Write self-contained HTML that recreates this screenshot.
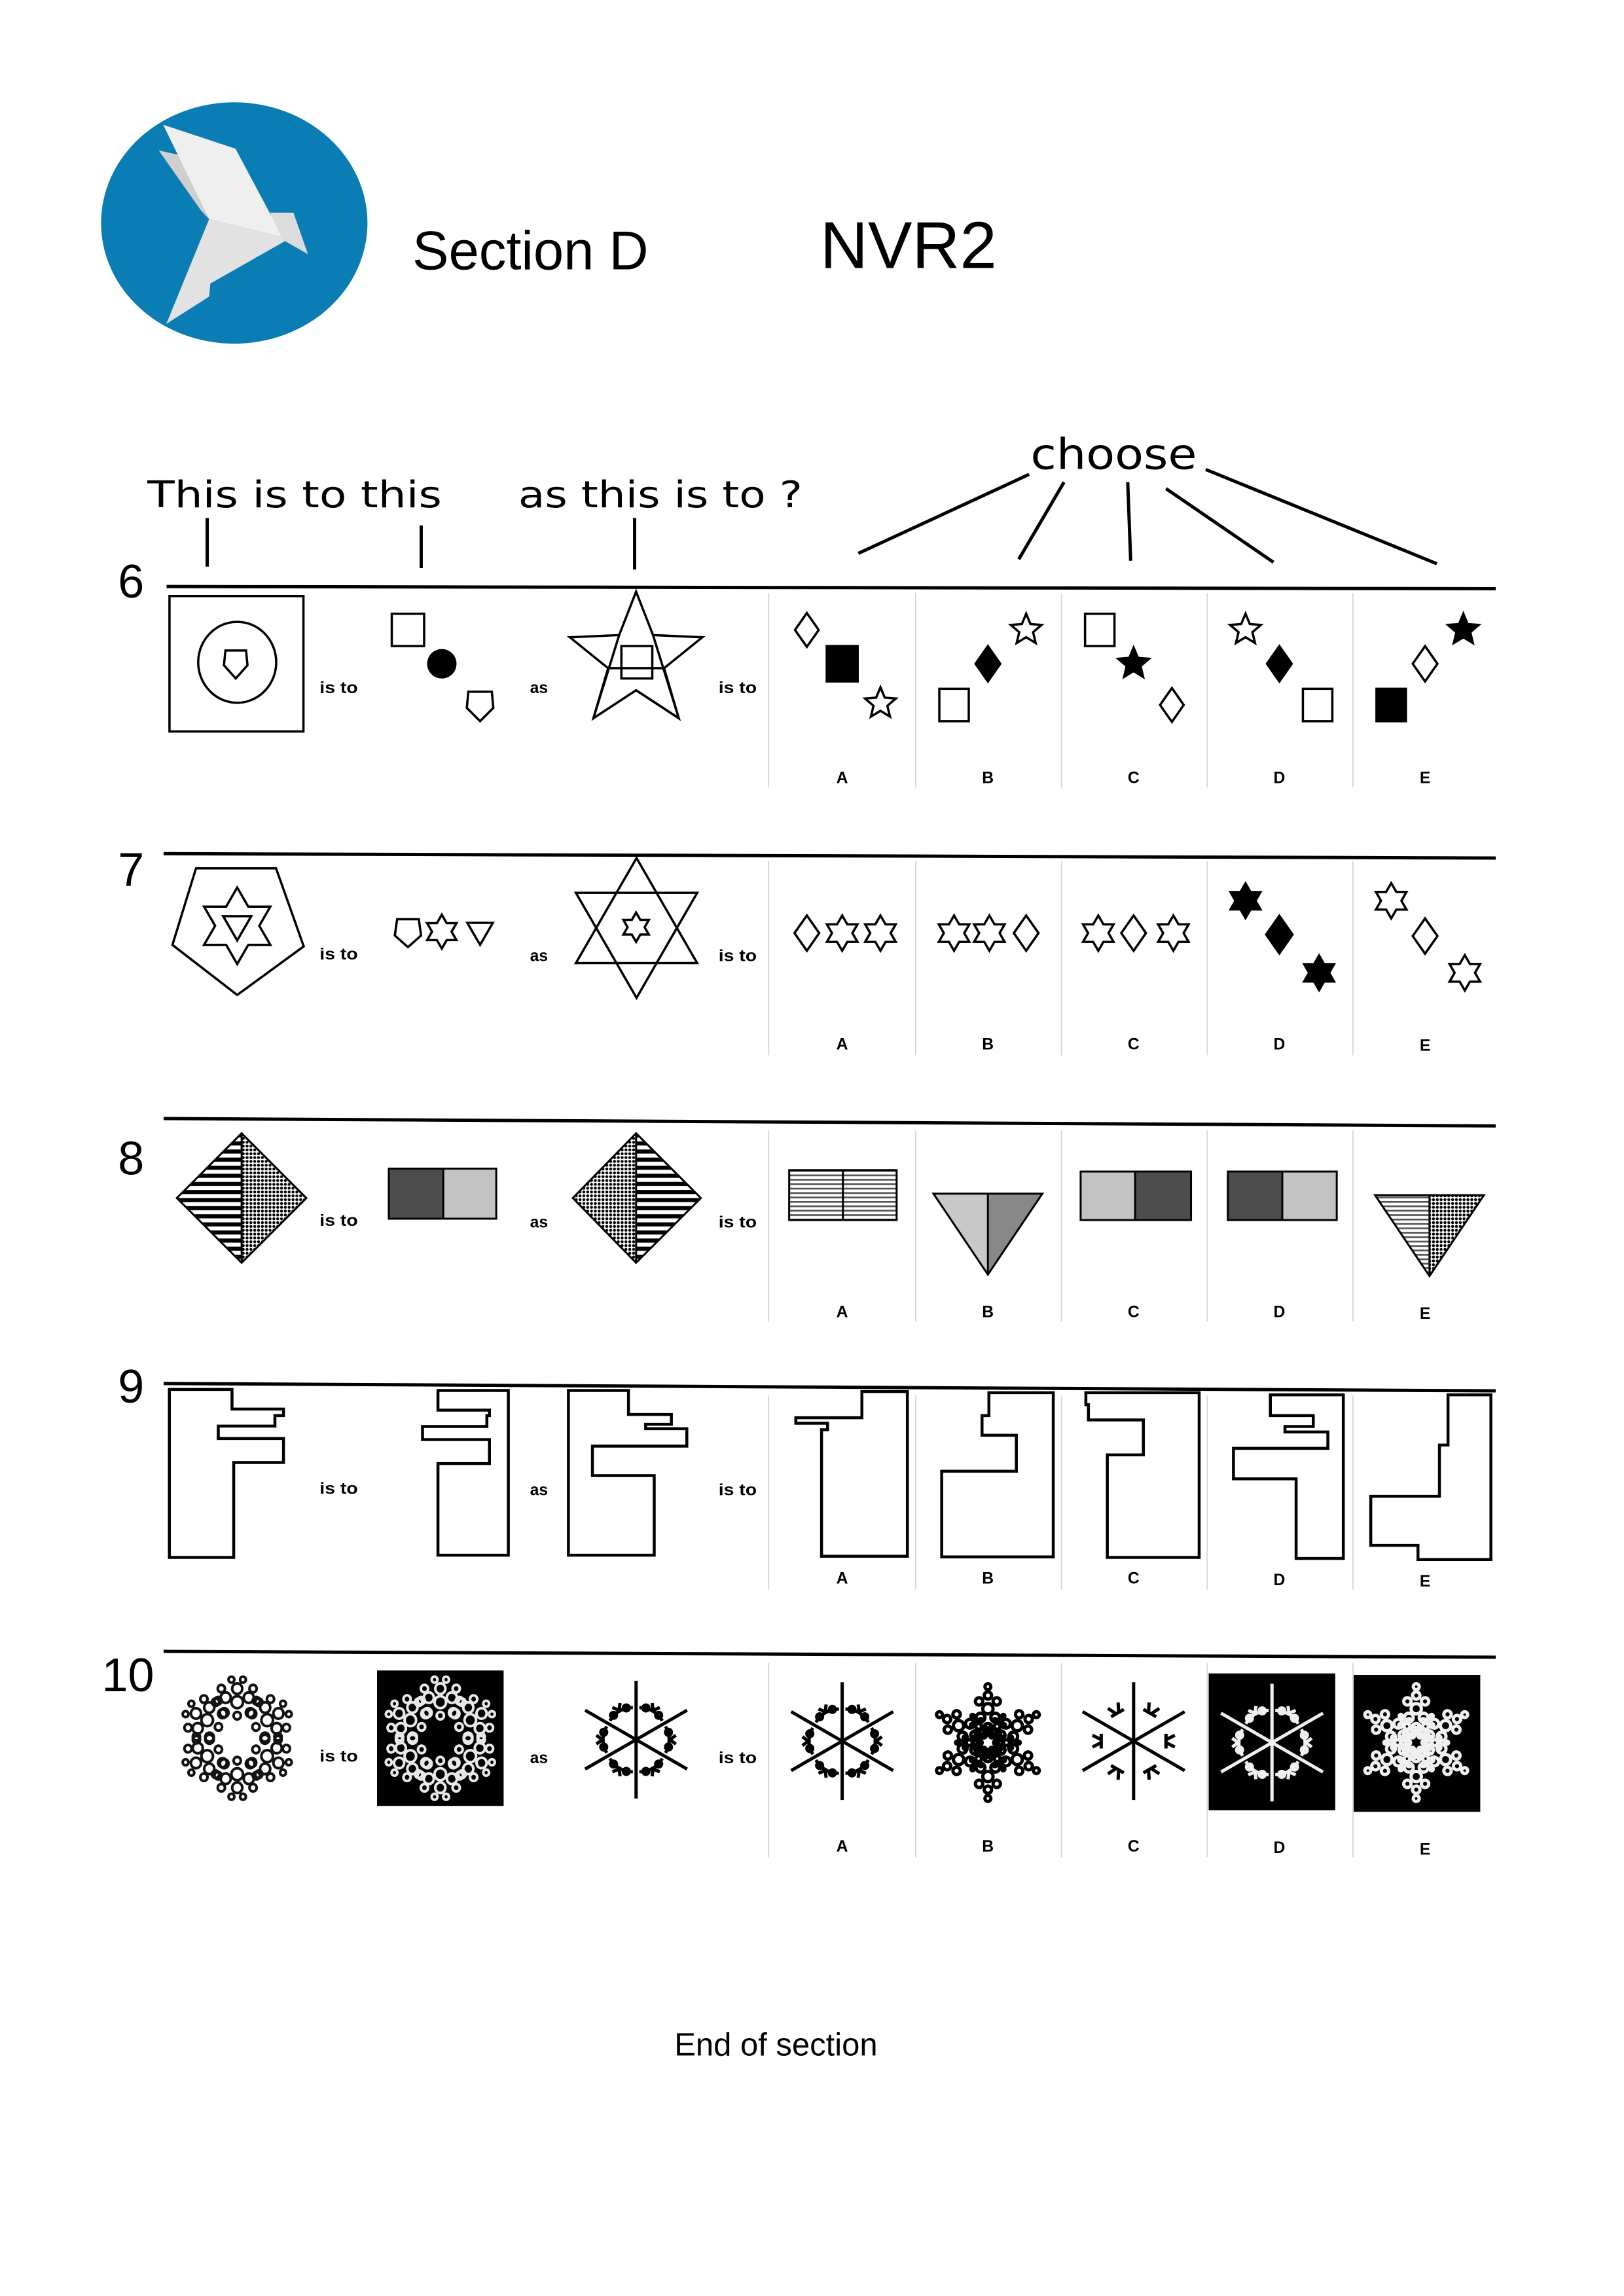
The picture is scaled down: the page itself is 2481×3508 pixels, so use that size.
<!DOCTYPE html>
<html><head><meta charset="utf-8"><style>
html,body{margin:0;padding:0;background:#fff;}
svg{display:block;}
svg *{vector-effect:non-scaling-stroke;}
.t{font-family:"DejaVu Sans","Liberation Sans",sans-serif;}
.l{font-family:"Liberation Sans",sans-serif;}
.s{font-family:"Liberation Sans",sans-serif;font-weight:bold;font-size:11px;}
</style></head><body>
<svg width="2481" height="3508" viewBox="0 0 1103 1560" xmlns="http://www.w3.org/2000/svg">
<defs>
<polygon id="st5" points="0,-10 2.65,-3.64 9.51,-3.09 4.28,1.39 5.88,8.09 0,4.5 -5.88,8.09 -4.28,1.39 -9.51,-3.09 -2.65,-3.64"/>
<polygon id="hex" points="0,-10 2.89,-5 8.66,-5 5.77,0 8.66,5 2.89,5 0,10 -2.89,5 -8.66,5 -5.77,0 -8.66,-5 -2.89,-5"/>
<polygon id="dia" points="0,-10 7,0 0,10 -7,0"/>
<polygon id="pentD" points="-7,-8 7,-8 8.5,2.5 0,10 -8.5,2.5"/>
<polygon id="triD" points="-8.66,-5 8.66,-5 0,10"/>
<pattern id="stripes" patternUnits="userSpaceOnUse" width="6" height="5.5"><rect width="6" height="2.8" fill="#000"/></pattern>
<pattern id="fstripes" patternUnits="userSpaceOnUse" width="6" height="3"><rect width="6" height="1.2" fill="#555"/></pattern>
<pattern id="dots" patternUnits="userSpaceOnUse" width="2.6" height="2.6"><circle cx="1.3" cy="1.3" r="1" fill="#000"/></pattern>
<g id="petal" fill="none" stroke="currentColor" stroke-width="4">
<circle cx="0" cy="-24" r="4"/><circle cx="-8" cy="-27" r="3.5"/><circle cx="8" cy="-27" r="3.5"/>
<circle cx="0" cy="-33" r="3.5"/><circle cx="-9" cy="-17" r="3"/><circle cx="9" cy="-17" r="3"/>
<circle cx="-11" cy="-33" r="2.5"/><circle cx="11" cy="-33" r="2.5"/><circle cx="0" cy="-15" r="2.5"/>
<circle cx="-4" cy="-39" r="2"/><circle cx="4" cy="-39" r="2"/><circle cx="-15" cy="-24" r="2.5"/><circle cx="15" cy="-24" r="2.5"/>
</g>
<g id="flower"><use href="#petal"/><use href="#petal" transform="rotate(60)"/><use href="#petal" transform="rotate(120)"/><use href="#petal" transform="rotate(180)"/><use href="#petal" transform="rotate(240)"/><use href="#petal" transform="rotate(300)"/></g>
<g id="sp" stroke="currentColor" fill="none" stroke-width="5"><line x1="0" y1="0" x2="0" y2="-40"/></g>
<g id="spokes"><use href="#sp"/><use href="#sp" transform="rotate(60)"/><use href="#sp" transform="rotate(120)"/><use href="#sp" transform="rotate(180)"/><use href="#sp" transform="rotate(240)"/><use href="#sp" transform="rotate(300)"/></g>
<g id="ringpart" fill="none" stroke="currentColor" stroke-width="5"><path d="M-9,-20 Q0,-25 9,-20"/><circle cx="-5" cy="-22" r="2"/><circle cx="5" cy="-22" r="2"/><path d="M-3,-27 L0,-23 L3,-27"/></g>
<g id="ringflake"><use href="#spokes"/><use href="#ringpart" transform="rotate(30)"/><use href="#ringpart" transform="rotate(90)"/><use href="#ringpart" transform="rotate(150)"/><use href="#ringpart" transform="rotate(210)"/><use href="#ringpart" transform="rotate(270)"/><use href="#ringpart" transform="rotate(330)"/></g>
<g id="tuft" fill="none" stroke="currentColor" stroke-width="5"><path d="M-4,-28 L-1,-22 M4,-28 L1,-22 M-5,-22 L5,-22"/></g>
<g id="tuftflake"><use href="#spokes"/><use href="#tuft" transform="rotate(30)"/><use href="#tuft" transform="rotate(90)"/><use href="#tuft" transform="rotate(150)"/><use href="#tuft" transform="rotate(210)"/><use href="#tuft" transform="rotate(270)"/><use href="#tuft" transform="rotate(330)"/></g>
<g id="arm" fill="none" stroke="currentColor" stroke-width="5"><circle cx="0" cy="-10" r="3"/><circle cx="-5" cy="-17" r="3"/><circle cx="5" cy="-17" r="3"/><circle cx="0" cy="-23" r="3.5"/><circle cx="-6" cy="-28" r="2.5"/><circle cx="6" cy="-28" r="2.5"/><circle cx="0" cy="-32" r="2.5"/><circle cx="0" cy="-38" r="2"/></g>
<g id="dense"><use href="#arm"/><use href="#arm" transform="rotate(60)"/><use href="#arm" transform="rotate(120)"/><use href="#arm" transform="rotate(180)"/><use href="#arm" transform="rotate(240)"/><use href="#arm" transform="rotate(300)"/><circle r="6" fill="none" stroke="currentColor" stroke-width="5"/><use href="#arm" transform="rotate(30) scale(0.55)"/><use href="#arm" transform="rotate(90) scale(0.55)"/><use href="#arm" transform="rotate(150) scale(0.55)"/><use href="#arm" transform="rotate(210) scale(0.55)"/><use href="#arm" transform="rotate(270) scale(0.55)"/><use href="#arm" transform="rotate(330) scale(0.55)"/></g>
</defs>

<!-- logo -->
<ellipse cx="159" cy="151.5" rx="90.5" ry="82" fill="#097db4"/>
<g transform="scale(0.44458) translate(100,100) scale(0.9615,0.3333)">
<polygon points="148,390 180,410 228,705 215,665" fill="#cfcfcf"/>
<polygon points="155,272 270,382 325,680 355,795 228,705" fill="#efefef"/>
<polygon points="228,705 355,795 230,1000 228,1060 160,1185" fill="#e2e2e2"/>
<polygon points="325,675 362,675 385,865 345,800" fill="#dcdcdc"/>
</g>
<text x="280" y="183" class="l" font-size="37">Section D</text>
<text x="557" y="182" class="l" font-size="45">NVR2</text>

<!-- header -->
<text x="100" y="344.6" class="t" font-size="25" textLength="200" lengthAdjust="spacingAndGlyphs">This is to this</text>
<text x="352" y="344.6" class="t" font-size="25" textLength="193" lengthAdjust="spacingAndGlyphs">as this is to ?</text>
<text x="700" y="318.6" class="t" font-size="29" textLength="113" lengthAdjust="spacingAndGlyphs">choose</text>
<g stroke="#000" stroke-width="5">
<line x1="140.6" y1="352" x2="140.6" y2="385"/><line x1="286" y1="357" x2="286" y2="386"/><line x1="431" y1="352" x2="431" y2="387"/>
<line x1="699" y1="322.3" x2="583" y2="376"/><line x1="722.7" y1="327.6" x2="692" y2="380"/><line x1="766" y1="327.6" x2="768" y2="381"/><line x1="792" y1="332" x2="865" y2="382"/><line x1="819" y1="319" x2="976" y2="383"/>
</g>

<!-- row lines & numbers -->
<g stroke="#000" stroke-width="5">
<line x1="113" y1="398.5" x2="1016" y2="400"/><line x1="111" y1="580" x2="1016" y2="583"/><line x1="111" y1="760" x2="1016" y2="765"/><line x1="111" y1="940" x2="1016" y2="945"/><line x1="111" y1="1122" x2="1016" y2="1126"/>
</g>
<g class="l" font-size="32">
<text x="80" y="406">6</text><text x="80" y="602">7</text><text x="80" y="798">8</text><text x="80" y="953">9</text><text x="69" y="1149">10</text>
</g>
<!-- dividers -->
<g stroke="#d8d8d8" stroke-width="2">
<line x1="522" y1="403" x2="522" y2="535"/><line x1="622" y1="403" x2="622" y2="535"/><line x1="721" y1="403" x2="721" y2="535"/><line x1="820" y1="403" x2="820" y2="535"/><line x1="919" y1="403" x2="919" y2="535"/>
<line x1="522" y1="585" x2="522" y2="717"/><line x1="622" y1="585" x2="622" y2="717"/><line x1="721" y1="585" x2="721" y2="717"/><line x1="820" y1="585" x2="820" y2="717"/><line x1="919" y1="585" x2="919" y2="717"/>
<line x1="522" y1="768" x2="522" y2="898"/><line x1="622" y1="768" x2="622" y2="898"/><line x1="721" y1="768" x2="721" y2="898"/><line x1="820" y1="768" x2="820" y2="898"/><line x1="919" y1="768" x2="919" y2="898"/>
<line x1="522" y1="948" x2="522" y2="1080"/><line x1="622" y1="948" x2="622" y2="1080"/><line x1="721" y1="948" x2="721" y2="1080"/><line x1="820" y1="948" x2="820" y2="1080"/><line x1="919" y1="948" x2="919" y2="1080"/>
<line x1="522" y1="1130" x2="522" y2="1262"/><line x1="622" y1="1130" x2="622" y2="1262"/><line x1="721" y1="1130" x2="721" y2="1262"/><line x1="820" y1="1130" x2="820" y2="1262"/><line x1="919" y1="1130" x2="919" y2="1262"/>
</g>
<!-- is to / as / letters -->
<g class="s" text-anchor="middle">
<text x="230" y="471" textLength="26" lengthAdjust="spacingAndGlyphs">is to</text><text x="366" y="471">as</text><text x="501" y="471" textLength="26" lengthAdjust="spacingAndGlyphs">is to</text>
<text x="230" y="652" textLength="26" lengthAdjust="spacingAndGlyphs">is to</text><text x="366" y="653">as</text><text x="501" y="653" textLength="26" lengthAdjust="spacingAndGlyphs">is to</text>
<text x="230" y="833" textLength="26" lengthAdjust="spacingAndGlyphs">is to</text><text x="366" y="834">as</text><text x="501" y="834" textLength="26" lengthAdjust="spacingAndGlyphs">is to</text>
<text x="230" y="1015" textLength="26" lengthAdjust="spacingAndGlyphs">is to</text><text x="366" y="1016">as</text><text x="501" y="1016" textLength="26" lengthAdjust="spacingAndGlyphs">is to</text>
<text x="230" y="1197" textLength="26" lengthAdjust="spacingAndGlyphs">is to</text><text x="366" y="1198">as</text><text x="501" y="1198" textLength="26" lengthAdjust="spacingAndGlyphs">is to</text>
</g>
<g class="s" font-size="10" text-anchor="middle">
<text x="572" y="532">A</text><text x="671" y="532">B</text><text x="770" y="532">C</text><text x="869" y="532">D</text><text x="968" y="532">E</text>
<text x="572" y="713">A</text><text x="671" y="713">B</text><text x="770" y="713">C</text><text x="869" y="713">D</text><text x="968" y="714">E</text>
<text x="572" y="895">A</text><text x="671" y="895">B</text><text x="770" y="895">C</text><text x="869" y="895">D</text><text x="968" y="896">E</text>
<text x="572" y="1076">A</text><text x="671" y="1076">B</text><text x="770" y="1076">C</text><text x="869" y="1077">D</text><text x="968" y="1078">E</text>
<text x="572" y="1258">A</text><text x="671" y="1258">B</text><text x="770" y="1258">C</text><text x="869" y="1259">D</text><text x="968" y="1260">E</text>
</g>

<!-- ROW 6 -->
<g fill="none" stroke="#000" stroke-width="3.5">
<rect x="115" y="405" width="91" height="92"/>
<ellipse cx="161" cy="450" rx="26.5" ry="27.5"/>
<polygon points="153,442 167,442 168,452 160,461 152,452"/>
<rect x="266" y="417" width="22" height="22"/>
<polygon points="318,470 334,470 335,481 326,490 317,481"/>
<polygon points="432,402 443.5,431.5 477,433 451,454 461,488 432,469 403,488 413,454 387,433 420.5,431.5"/>
<polyline points="443.5,431.5 461,488 432,469" />
<polyline points="420.5,431.5 403,488"/>
<line x1="413" y1="454" x2="451" y2="454"/>
<rect x="422" y="439" width="21" height="22"/>
</g>
<circle cx="300" cy="451" r="10" fill="#000"/>
<g stroke="#000" stroke-width="3.5">
<use href="#dia" transform="translate(548,428) scale(1.15)" fill="#fff"/>
<rect x="561.5" y="439" width="21" height="24" fill="#000"/>
<use href="#st5" transform="translate(598,478) scale(1.1)" fill="#fff"/>
<use href="#st5" transform="translate(697,428) scale(1.1)" fill="#fff"/>
<use href="#dia" transform="translate(671,451) scale(1.2)" fill="#000"/>
<rect x="638" y="468" width="20" height="22" fill="#fff"/>
<rect x="737" y="417" width="20" height="22" fill="#fff"/>
<use href="#st5" transform="translate(770,451) scale(1.1)" fill="#000"/>
<use href="#dia" transform="translate(796,479) scale(1.15)" fill="#fff"/>
<use href="#st5" transform="translate(846,428) scale(1.1)" fill="#fff"/>
<use href="#dia" transform="translate(869,451) scale(1.2)" fill="#000"/>
<rect x="885" y="468" width="20" height="22" fill="#fff"/>
<use href="#st5" transform="translate(994,428) scale(1.1)" fill="#000"/>
<use href="#dia" transform="translate(968,451) scale(1.2)" fill="#fff"/>
<rect x="935" y="468" width="20" height="22" fill="#000"/>
</g>

<!-- ROW 7 -->
<g fill="none" stroke="#000" stroke-width="3.5">
<polygon points="133,590 187.4,590 206.2,643 161,676 117,642"/>
<use href="#hex" transform="translate(161,629) scale(2.6)"/>
<use href="#triD" transform="translate(161,628) scale(1.1)"/>
<use href="#pentD" transform="translate(277,633) scale(1.05)"/>
<use href="#hex" transform="translate(300,633) scale(1.15)"/>
<use href="#triD" transform="translate(326,632) scale(1.0)"/>
<polygon points="432.3,583 473.5,654.4 391.1,654.4"/>
<polygon points="432.3,678 473.5,606.6 391.1,606.6"/>
<use href="#hex" transform="translate(432,630) scale(1.0)"/>
<use href="#dia" transform="translate(548,634) scale(1.2)"/>
<use href="#hex" transform="translate(572,634) scale(1.2)"/>
<use href="#hex" transform="translate(598,634) scale(1.2)"/>
<use href="#hex" transform="translate(648,634) scale(1.2)"/>
<use href="#hex" transform="translate(672,634) scale(1.2)"/>
<use href="#dia" transform="translate(697,634) scale(1.2)"/>
<use href="#hex" transform="translate(746,634) scale(1.2)"/>
<use href="#dia" transform="translate(770,634) scale(1.2)"/>
<use href="#hex" transform="translate(797,634) scale(1.2)"/>
<use href="#hex" transform="translate(945,612) scale(1.2)"/>
<use href="#dia" transform="translate(968,636) scale(1.2)"/>
<use href="#hex" transform="translate(995,661) scale(1.2)"/>
</g>
<g fill="#000" stroke="#000" stroke-width="3">
<use href="#hex" transform="translate(846,612) scale(1.2)"/>
<use href="#dia" transform="translate(869,635) scale(1.3)"/>
<use href="#hex" transform="translate(896,661) scale(1.2)"/>
</g>

<!-- ROW 8 -->
<g stroke="none">
<polygon points="120,814 164,770 164,858" fill="url(#stripes)"/>
<polygon points="164,770 208,814 164,858" fill="url(#dots)"/>
<polygon points="389,814 432,770 432,858" fill="url(#dots)"/>
<polygon points="432,770 476,814 432,858" fill="url(#stripes)"/>
<rect x="264" y="794" width="37" height="34" fill="#4d4d4d"/>
<rect x="301" y="794" width="36" height="34" fill="#c3c3c3"/>
<rect x="536" y="795" width="73" height="34" fill="url(#fstripes)"/>
<polygon points="634,811 671,811 671,866" fill="#c8c8c8"/>
<polygon points="671,811 708,811 671,866" fill="#888"/>
<rect x="734" y="796" width="37" height="33" fill="#c3c3c3"/>
<rect x="771" y="796" width="38" height="33" fill="#4d4d4d"/>
<rect x="834" y="796" width="37" height="33" fill="#4d4d4d"/>
<rect x="871" y="796" width="37" height="33" fill="#c3c3c3"/>
<polygon points="934,812 971,812 971,867" fill="url(#fstripes)"/>
<polygon points="971,812 1008,812 971,867" fill="url(#dots)"/>
</g>
<g fill="none" stroke="#000" stroke-width="3">
<polygon points="120,814 164,770 208,814 164,858"/><line x1="164" y1="770" x2="164" y2="858"/>
<polygon points="389,814 432,770 476,814 432,858"/><line x1="432" y1="770" x2="432" y2="858"/>
<rect x="264" y="794" width="73" height="34"/><line x1="301" y1="794" x2="301" y2="828"/>
<rect x="536" y="795" width="73" height="34"/><line x1="572.5" y1="795" x2="572.5" y2="829"/>
<polygon points="634,811 708,811 671,866"/><line x1="671" y1="811" x2="671" y2="866"/>
<rect x="734" y="796" width="75" height="33"/><line x1="771" y1="796" x2="771" y2="829"/>
<rect x="834" y="796" width="74" height="33"/><line x1="871" y1="796" x2="871" y2="829"/>
<polygon points="934,812 1008,812 971,867"/><line x1="971" y1="812" x2="971" y2="867"/>
</g>

<!-- ROW 9 -->
<g transform="translate(112,938.1) scale(0.583,0.1482)" fill="none" stroke="#000" stroke-width="4.5">
<path d="M5,40 H78 V130 H138 V160 H128 V208 H62 V265 H138 V375 H80 V810 H5 Z"/>
<path d="M318,45 H400 V800 H318 V380 H378 V270 H300 V210 H375 V160 H378 V135 H318 Z"/>
<path d="M470,45 H540 V155 H590 V200 H560 V220 H608 V300 H498 V435 H570 V800 H470 Z"/>
<path d="M812,50 H865 V805 H765 V225 H772 V195 H735 V170 H812 Z"/>
<path d="M960,55 H1035 V808 H905 V415 H992 V250 H952 V160 H960 Z"/>
<path d="M1073,55 H1205 V810 H1098 V340 H1140 V180 H1076 V110 H1073 Z"/>
<path d="M1288,65 H1373 V815 H1318 V450 H1245 V310 H1355 V235 H1305 V210 H1338 V160 H1288 Z"/>
<path d="M1495,65 H1545 V820 H1460 V755 H1405 V530 H1485 V295 H1495 Z"/>
</g>

<!-- ROW 10 -->
<rect x="256" y="1135" width="86" height="92" fill="#000"/>
<rect x="821" y="1137" width="86" height="93" fill="#000"/>
<rect x="919.5" y="1138" width="86" height="93" fill="#000"/>
<g color="#111"><use href="#flower" transform="translate(161,1181) scale(0.98,1.02)"/></g>
<g color="#e8e8e8"><use href="#flower" transform="translate(299,1181) scale(0.98,1.02)"/></g>
<g color="#000">
<use href="#ringflake" transform="translate(432,1182)"/>
<use href="#ringflake" transform="translate(572,1183)"/>
<use href="#dense" transform="translate(671,1184)"/>
<use href="#tuftflake" transform="translate(770,1183)"/>
</g>
<g color="#f0f0f0">
<use href="#ringflake" transform="translate(864,1184)"/>
<use href="#dense" transform="translate(962,1184)"/>
</g>

<text x="458" y="1396.5" class="l" font-size="21.8" textLength="138" lengthAdjust="spacingAndGlyphs">End of section</text>
</svg>
</body></html>
